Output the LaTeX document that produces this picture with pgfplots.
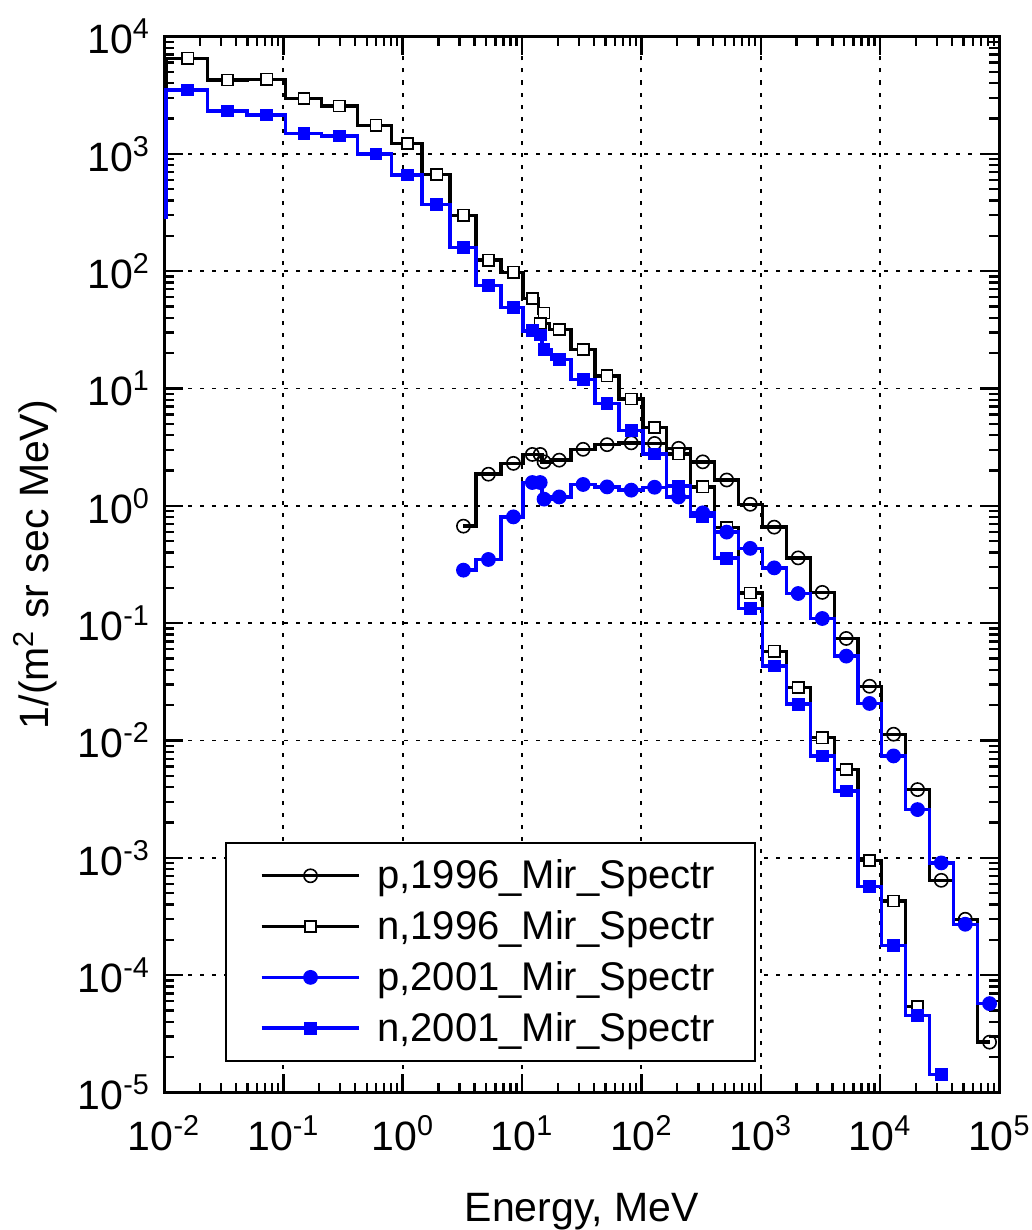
\documentclass[border=0pt]{standalone}
\usepackage{fontspec}
\setmainfont{Liberation Sans}
\usepackage{pgfplots}
\pgfplotsset{compat=1.18}
\newcommand\fs{\fontsize{20.5}{24.6}\selectfont}
\newcommand\lfs{\fontsize{20}{24}\selectfont}
\definecolor{mblue}{RGB}{0,0,255}

\pgfplotstableread{
x y
3.23 0.671
5.23 1.86
8.47 2.30
12.2 2.74
14.2 2.74
15.3 2.37
20.5 2.45
32.5 3.03
51.6 3.32
82.2 3.44
129 3.40
205 3.09
327 2.37
519 1.66
817 1.03
1298 0.658
2061 0.360
3281 0.183
5212 0.0741
8166 0.0290
12980 0.01132
20620 0.00382
32580 0.000644
51760 0.000300
82760 2.69e-5
}\pNineSix

\pgfplotstableread{
x y
0.0158 6517
0.0340 4256
0.0726 4317
0.149 2949
0.294 2555
0.598 1750
1.094 1219
1.93 668
3.23 299
5.23 124
8.47 97.7
12.2 58.6
15.3 43.9
14.2 35.9
20.5 31.9
32.5 21.5
51.6 12.8
82.2 8.12
129 4.66
205 2.76
327 1.45
519 0.652
817 0.181
1298 0.0577
2061 0.0283
3281 0.01057
5212 0.00566
8166 0.000953
12980 0.000429
20620 5.43e-5
}\nNineSix

\pgfplotstableread{
x y
3.23 0.283
5.23 0.349
8.47 0.805
12.2 1.58
14.2 1.58
15.3 1.14
20.5 1.19
32.5 1.52
51.6 1.45
82.2 1.36
129 1.44
205 1.19
327 0.871
519 0.597
817 0.434
1298 0.296
2061 0.179
3281 0.1096
5212 0.0524
8166 0.0207
12980 0.00739
20620 0.00258
32580 0.000906
51760 0.000272
82760 5.73e-5
}\pZeroOne

\pgfplotstableread{
x y
0.0158 3499
0.0340 2317
0.0726 2142
0.149 1496
0.294 1419
0.598 996
1.094 659
1.93 371
3.23 158
5.23 75.1
8.47 48.7
12.2 31.0
14.2 28.5
15.3 21.5
20.5 17.7
32.5 11.96
51.6 7.41
82.2 4.36
129 2.76
205 1.47
327 0.817
519 0.358
817 0.1334
1298 0.0432
2061 0.0204
3281 0.00738
5212 0.00372
8166 0.000573
12980 0.000180
20620 4.53e-5
32580 1.42e-5
}\nZeroOne

\begin{document}
\begin{tikzpicture}
\path[use as bounding box] (-82pt,-68.7pt) rectangle (433.85pt,546.25pt);
\begin{axis}[
  scale only axis, width=417.65pt, height=528.05pt,
  xmode=log, ymode=log,
  xmin=1e-2, xmax=1e5, ymin=1e-5, ymax=1e4,
  xtick={1e-2,1e-1,1,1e1,1e2,1e3,1e4,1e5},
  xticklabels={10\textsuperscript{-2},10\textsuperscript{-1},10\textsuperscript{0},10\textsuperscript{1},10\textsuperscript{2},10\textsuperscript{3},10\textsuperscript{4},10\textsuperscript{5}},
  ytick={1e-5,1e-4,1e-3,1e-2,1e-1,1,1e1,1e2,1e3,1e4},
  yticklabels={10\textsuperscript{-5},10\textsuperscript{-4},10\textsuperscript{-3},10\textsuperscript{-2},10\textsuperscript{-1},10\textsuperscript{0},10\textsuperscript{1},10\textsuperscript{2},10\textsuperscript{3},10\textsuperscript{4}},
  tick label style={font=\fs},
  xticklabel style={yshift=-8pt},
  yticklabel style={xshift=-3.5pt},
  major tick length=9.5pt, minor tick length=5pt,
  every tick/.style={black, line width=1.2pt},
  axis line style={line width=1.5pt},
  grid=major,
  major grid style={black, line width=0.9pt, dash pattern=on 2pt off 4pt},
  xlabel={Energy, MeV},
  ylabel={1/(m\textsuperscript{2} sr sec MeV)},
  label style={font=\fs},
  xlabel style={at={(axis description cs:0.5,-0.113)}, anchor=center},
  ylabel style={at={(axis description cs:-0.1544,0.5)}, anchor=center},
  legend style={at={(axis description cs:0.073,0.029)}, anchor=south west,
    font=\lfs, draw=black, line width=0.9pt, inner xsep=17pt, inner ysep=3.75pt,
    column sep=5pt,
    nodes={inner xsep=3pt, inner ysep=4.7pt}},
  legend cell align=left,
  legend image code/.code={\draw[mark repeat=2,mark phase=2,#1] plot coordinates {(0cm,0cm) (0.86cm,0cm) (1.72cm,0cm)};},
]
\addplot[black, line width=1.7pt, const plot mark mid, mark=o, mark size=3.3pt,
  mark options={fill=white, line width=0.8pt}] table {\pNineSix};
\addlegendentry{p,1996\_Mir\_Spectr}
\addplot[black, line width=1.7pt, forget plot] coordinates {(0.01039,278) (0.01039,6517) (0.0158,6517)};
\addplot[black, line width=1.7pt, const plot mark mid, mark=square*, mark size=2.8pt,
  mark options={fill=white, line width=0.8pt}] table {\nNineSix};
\addlegendentry{n,1996\_Mir\_Spectr}
\addplot[mblue, line width=1.7pt, const plot mark mid, mark=*, mark size=3.3pt,
  mark options={fill=mblue, line width=0.8pt}] table {\pZeroOne};
\addlegendentry{p,2001\_Mir\_Spectr}
\addplot[mblue, line width=1.7pt, forget plot] coordinates {(0.01039,278) (0.01039,3499) (0.0158,3499)};
\addplot[mblue, line width=1.7pt, const plot mark mid, mark=square*, mark size=2.8pt,
  mark options={fill=mblue, line width=0.8pt}] table {\nZeroOne};
\addlegendentry{n,2001\_Mir\_Spectr}
\end{axis}
\end{tikzpicture}
\end{document}
